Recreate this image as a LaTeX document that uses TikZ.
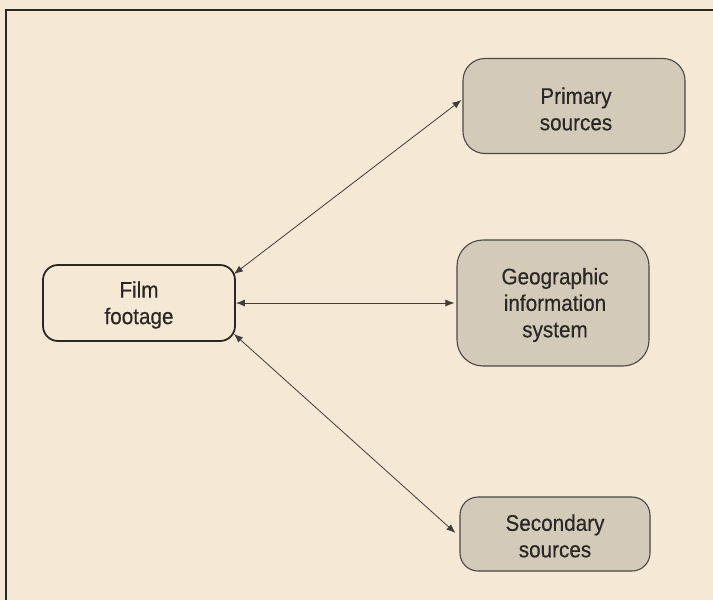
\documentclass[tikz,border=0pt]{standalone}
\usepackage{fontspec}
\setmainfont{Liberation Sans}[FakeStretch=0.92,FakeBold=0.4]
\usetikzlibrary{calc,arrows.meta}
\definecolor{paper}{HTML}{F5E8D4}
\definecolor{boxgrey}{HTML}{D3CABA}
\definecolor{ink}{HTML}{2A2724}
\tikzset{
  textstyle/.style={font=\fontsize{22.5}{26.5}\selectfont, text=ink, align=center, inner sep=0pt},
  filmbox/.style={textstyle, draw=ink, line width=1.8pt, fill=paper, rounded corners=15pt},
  greybox/.style={textstyle, draw=ink!85, line width=1.1pt, fill=boxgrey, rounded corners=22pt},
  link/.style={draw=ink!90, line width=0.8pt, {Latex[length=9pt,width=7pt]}-{Latex[length=9pt,width=7pt]}},
  framerule/.style={draw=ink, line width=2pt}
}
\begin{document}
\begin{tikzpicture}[x=1pt,y=-1pt]
\fill[paper] (0,0) rectangle (713,600);
\useasboundingbox (0,0) rectangle (713,600);
\coordinate (frameTL) at (6,10);
\coordinate (frameTR) at (713,10);
\coordinate (frameBL) at (6,600);
\draw[framerule] (frameTR) -- (frameTL) -- (frameBL);

\node[filmbox, minimum width=192pt, minimum height=76pt] (film) at (139,303) {};
\node[textstyle] (filmtext) at (139,305) {Film\\footage};
\node[greybox, minimum width=222pt, minimum height=95pt] (prim) at (574,106) {};
\node[textstyle] (primtext) at (576,109) {Primary\\sources};
\node[greybox, minimum width=192pt, minimum height=126pt, rounded corners=26pt] (gis) at (553,303) {};
\node[textstyle] (gistext) at (555,305) {Geographic\\information\\system};
\node[greybox, minimum width=190pt, minimum height=74pt, rounded corners=18pt] (sec) at (555,534) {};
\node[textstyle] (sectext) at (555,536) {Secondary\\sources};

\draw[link] ($(film.north east)+(-2,10)$) -- ($(prim.west)+(-1,-6)$);
\draw[link] (film.east) -- ($(gis.west)+(-2,0)$);
\draw[link] ($(film.south east)+(-2,-8)$) -- ($(sec.west)+(-4,-1)$);
\end{tikzpicture}
\end{document}
